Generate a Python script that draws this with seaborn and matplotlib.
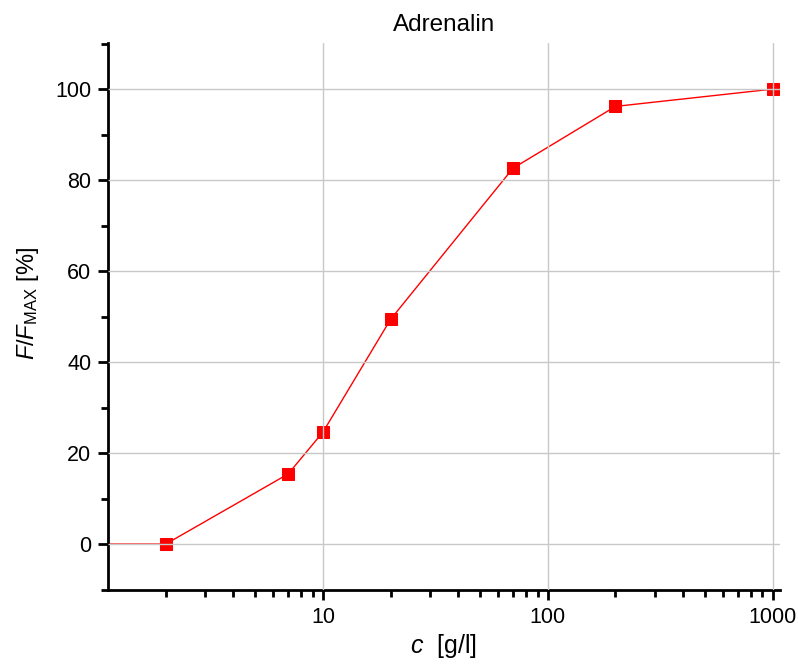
import numpy as np
import pandas as pd
import seaborn as sns
import matplotlib.pyplot as plt
from matplotlib.ticker import LogLocator, MultipleLocator, FixedLocator, NullFormatter

# Données
conc = [1, 2, 7, 10, 20, 70, 200, 1000]
f_rel = [0.0, 0.0, 15.4, 24.6, 49.4, 82.6, 96.2, 100.0]

df = pd.DataFrame({'c': conc, 'F': f_rel})

sns.set_style('white')
plt.rcParams['font.family'] = ['Liberation Sans', 'DejaVu Sans']
plt.rcParams['mathtext.fontset'] = 'custom'
plt.rcParams['mathtext.rm'] = 'Liberation Sans'
plt.rcParams['mathtext.it'] = 'Liberation Sans:italic'
plt.rcParams['text.color'] = 'black'
plt.rcParams['axes.labelcolor'] = 'black'
plt.rcParams['xtick.color'] = 'black'
plt.rcParams['ytick.color'] = 'black'

fig = plt.figure(figsize=(7.98, 6.64), dpi=100)
ax = fig.add_axes([0.1353, 0.1114, 0.977 - 0.1353, 0.935 - 0.1114])
ax.set_xscale('log')

sns.lineplot(data=df, x='c', y='F', ax=ax, color='red', linewidth=1.0,
             marker='s', markersize=8, markeredgecolor='red', markerfacecolor='red')

ax.set_xlim(1.107, 1074)
ax.set_ylim(-10.1, 110.1)

ax.xaxis.set_major_locator(FixedLocator([10, 100, 1000]))
ax.xaxis.set_major_formatter(plt.FuncFormatter(lambda v, p: f'{v:g}'))
ax.xaxis.set_minor_locator(LogLocator(base=10, subs=np.arange(2, 10), numticks=20))
ax.xaxis.set_minor_formatter(NullFormatter())
ax.yaxis.set_major_locator(MultipleLocator(20))
ax.yaxis.set_minor_locator(MultipleLocator(10))

ax.grid(True, which='major', color='#c8c8c8', linewidth=1.0)
ax.set_axisbelow(False)

for side in ['top', 'right']:
    ax.spines[side].set_visible(False)
for side in ['left', 'bottom']:
    ax.spines[side].set_linewidth(2.0)
    ax.spines[side].set_color('black')

ax.tick_params(which='major', direction='out', length=7, width=2, labelsize=15.5,
               left=True, bottom=True, pad=5)
ax.tick_params(which='minor', direction='out', length=5, width=2, left=True, bottom=True)

ax.set_title('Adrenalin', fontsize=17.5, pad=9)
ax.set_xlabel(r'$c$  [g/l]', fontsize=18, labelpad=3)
ax.set_ylabel(r'$F/F_{\mathrm{MAX}}$ [%]', fontsize=17)
ax.yaxis.set_label_coords(-0.100, 0.523)

fig.savefig('out.png', dpi=100)
